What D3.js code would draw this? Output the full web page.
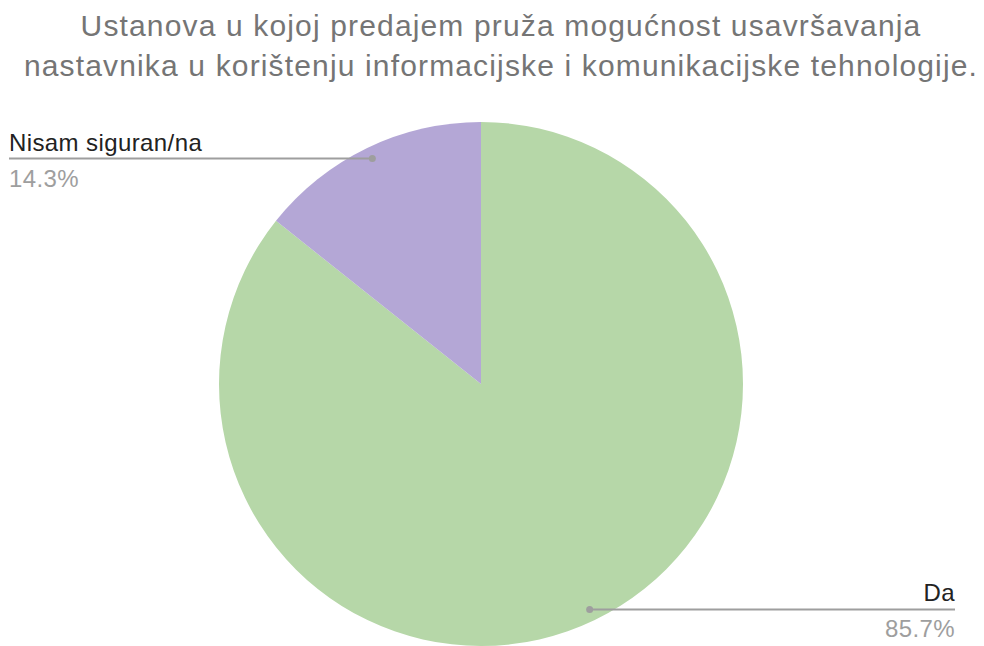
<!DOCTYPE html>
<html>
<head>
<meta charset="utf-8">
<script src="https://cdn.jsdelivr.net/npm/d3@7"></script>
<style>
  body { margin: 0; background: #fff; }
  svg { display: block; font-family: "Liberation Sans", Arial, sans-serif; }
</style>
</head>
<body>
<svg id="chart" width="984" height="646"></svg>
<script>
// data
const categories = ["Da", "Nisam siguran/na"];
const values = [85.7, 14.3];
const colors = ["#b6d7a8", "#b4a7d6"];
const titleLines = [
  "Ustanova u kojoj predajem pruža mogućnost usavršavanja",
  "nastavnika u korištenju informacijske i komunikacijske tehnologije."
];

const width = 984, height = 646;
const cx = 481, cy = 384, radius = 262;

const svg = d3.select("#chart");

// title
svg.append("g")
  .selectAll("text")
  .data(titleLines)
  .enter()
  .append("text")
  .attr("x", 501)
  .attr("y", (d, i) => 36 + i * 40)
  .attr("text-anchor", "middle")
  .style("font-size", "30px")
  .style("letter-spacing", "1.15px")
  .style("fill", "#757575")
  .text((d) => d);

const data = categories.map((c, i) => ({ name: c, value: values[i], color: colors[i] }));

const pie = d3.pie().sort(null).value((d) => d.value);
const arcs = pie(data);
const arc = d3.arc().innerRadius(0).outerRadius(radius);

const chart = svg.append("g").attr("transform", `translate(${cx},${cy})`);

chart.selectAll(".slice")
  .data(arcs)
  .enter()
  .append("path")
  .attr("class", "slice")
  .attr("d", arc)
  .attr("fill", (d) => d.data.color);

// label leaders
const dotR = radius * 0.955;
const labelX = { "Da": 955, "Nisam siguran/na": 9 };

const labels = svg.append("g");
arcs.forEach((d) => {
  const mid = (d.startAngle + d.endAngle) / 2;
  const px = cx + Math.sin(mid) * dotR;
  const py = cy - Math.cos(mid) * dotR;
  const right = Math.sin(mid) > 0;
  const lx = labelX[d.data.name];

  labels.append("line")
    .attr("x1", px).attr("y1", py)
    .attr("x2", lx).attr("y2", py)
    .style("stroke", "#9e9e9e")
    .style("stroke-width", 2);

  labels.append("circle")
    .attr("cx", px).attr("cy", py).attr("r", 3.5)
    .style("fill", "#9e9e9e");

  labels.append("text")
    .attr("x", lx)
    .attr("y", py - 8)
    .attr("text-anchor", right ? "end" : "start")
    .style("font-size", "24px")
    .style("letter-spacing", "0.4px")
    .style("fill", "#222")
    .text(d.data.name);

  labels.append("text")
    .attr("x", lx)
    .attr("y", py + 28)
    .attr("text-anchor", right ? "end" : "start")
    .style("font-size", "24px")
    .style("letter-spacing", "0.4px")
    .style("fill", "#9e9e9e")
    .text(d3.format(".1f")(d.data.value) + "%");
});
</script>
</body>
</html>
